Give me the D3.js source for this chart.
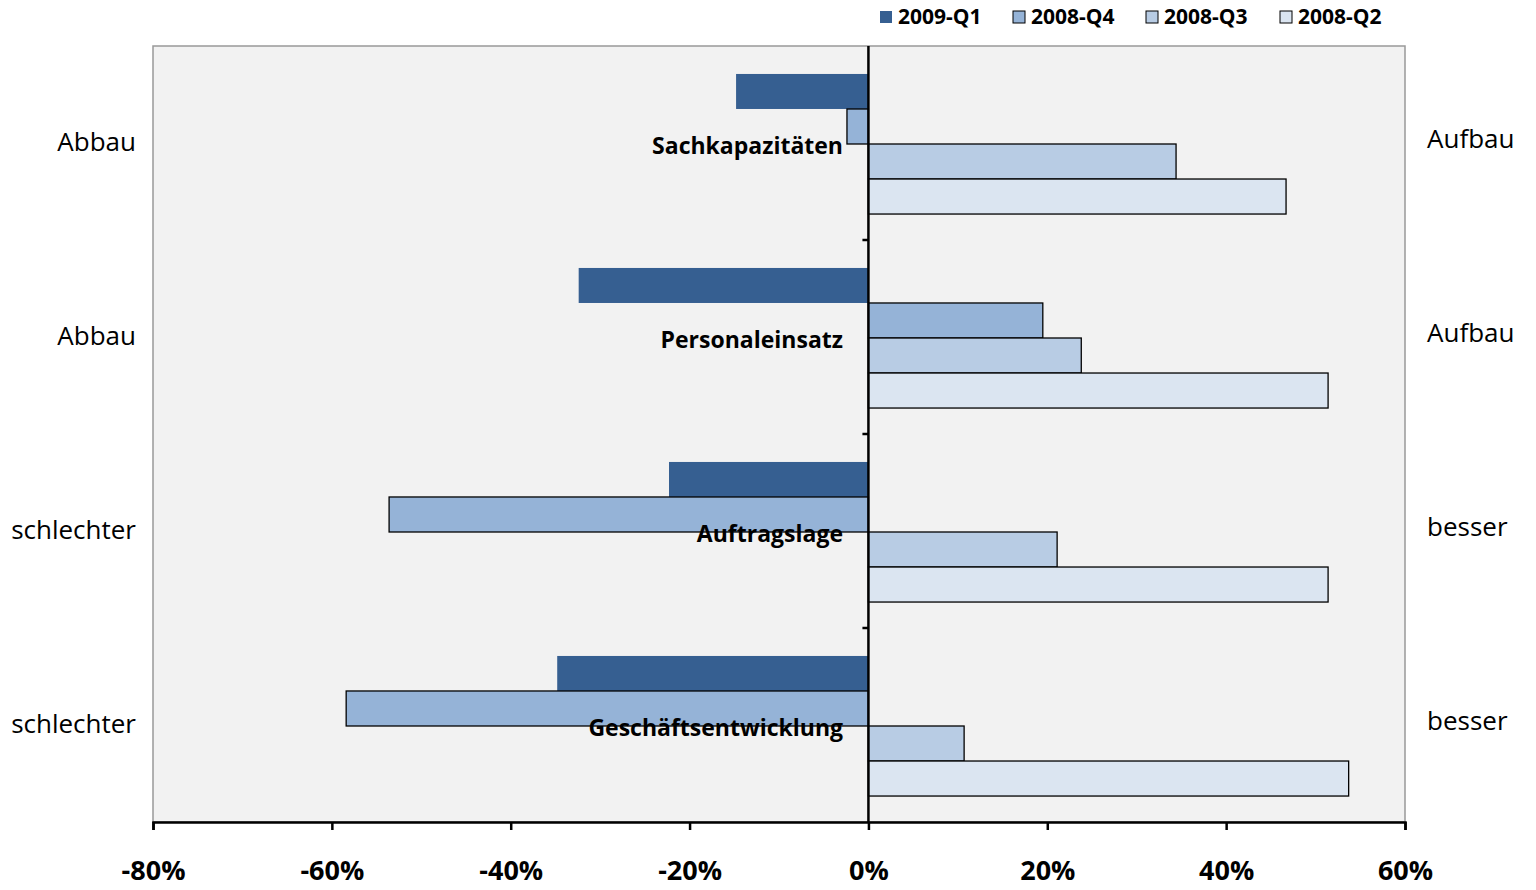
<!DOCTYPE html>
<html>
<head>
<meta charset="utf-8">
<style>
  body { margin: 0; background: #fff; font-family: "Open Sans", Arial, sans-serif; }
</style>
</head>
<body>
<svg id="chart" width="1536" height="890"></svg>
<script src="https://cdn.jsdelivr.net/npm/d3@7"></script>
<script>
const categories = ["Sachkapazitäten", "Personaleinsatz", "Auftragslage", "Geschäftsentwicklung"];
const leftLabels = ["Abbau", "Abbau", "schlechter", "schlechter"];
const rightLabels = ["Aufbau", "Aufbau", "besser", "besser"];
const seriesNames = ["2009-Q1", "2008-Q4", "2008-Q3", "2008-Q2"];
const q1 = [-14.8, -32.4, -22.3, -34.8];
const q4 = [-2.4, 19.5, -53.6, -58.4];
const q3 = [34.4, 23.8, 21.1, 10.7];
const q2 = [46.7, 51.4, 51.4, 53.7];
const xTicks = [-80, -60, -40, -20, 0, 20, 40, 60];
const colors = ["#365f91", "#95b3d7", "#b8cce4", "#dbe5f1"];
const series = [q1, q4, q3, q2];

(function () {
const svg = d3.select("#chart");
const pl = 153, pr = 1405, pt = 46, pb = 822;

const x = d3.scaleLinear().domain([-80, 60]).range([pl, pr]);
const y = d3.scaleBand().domain(categories).range([pt, pb]);
const yInner = d3.scaleBand().domain(seriesNames).range([0, y.bandwidth()]).paddingOuter(0.77);

svg.append("rect").attr("x", pl).attr("y", pt).attr("width", pr - pl).attr("height", pb - pt)
  .attr("fill", "#f2f2f2").attr("stroke", "#999").attr("stroke-width", 1.5);

categories.forEach((c, i) => {
  series.forEach((s, j) => {
    const v = s[i];
    svg.append("rect")
      .attr("x", x(Math.min(0, v)))
      .attr("y", y(c) + yInner(seriesNames[j]) + 1)
      .attr("width", Math.abs(x(v) - x(0)))
      .attr("height", yInner.bandwidth())
      .attr("fill", colors[j])
      .attr("stroke", j === 0 ? "none" : "#000")
      .attr("stroke-width", 1.3);
  });
});

// zero axis with tick marks
svg.append("line").attr("x1", x(0)).attr("x2", x(0)).attr("y1", pt).attr("y2", pb)
  .attr("stroke", "#000").attr("stroke-width", 2.5);
categories.forEach((c, i) => {
  if (i > 0) svg.append("line").attr("x1", x(0) - 6).attr("x2", x(0)).attr("y1", y(c)).attr("y2", y(c))
    .attr("stroke", "#000").attr("stroke-width", 2.5);
});

// bottom axis
const xAxis = svg.append("g").attr("transform", `translate(0,${pb})`)
  .call(d3.axisBottom(x).tickValues(xTicks).tickFormat(d => d + "%").tickSize(8));
xAxis.select(".domain").attr("stroke-width", 2.5);
xAxis.selectAll(".tick line").attr("stroke-width", 2.5);
xAxis.selectAll("text").attr("font-size", 27).attr("font-weight", "bold").attr("dy", "1.75em")
  .attr("font-family", "Open Sans, Arial, sans-serif").attr("fill", "#000");

// category labels
categories.forEach((c, i) => {
  const cy = y(c) + y.bandwidth() / 2;
  svg.append("text").attr("x", 843).attr("y", cy + 11).attr("text-anchor", "end")
    .attr("font-size", 23).attr("font-weight", "bold").text(c);
  svg.append("text").attr("x", 136).attr("y", cy + 8).attr("text-anchor", "end")
    .attr("font-size", 26).text(leftLabels[i]);
  svg.append("text").attr("x", 1427).attr("y", cy + 5)
    .attr("font-size", 26).text(rightLabels[i]);
});

// legend
const legX = [880, 1013, 1146, 1280];
seriesNames.forEach((n, j) => {
  svg.append("rect").attr("x", legX[j]).attr("y", 11).attr("width", 12).attr("height", 12)
    .attr("fill", colors[j]).attr("stroke", j === 0 ? "none" : "#000").attr("stroke-width", 1);
  svg.append("text").attr("x", legX[j] + 18).attr("y", 24).attr("font-size", 21)
    .attr("font-weight", "bold").text(n);
});
})();
</script>
</body>
</html>
